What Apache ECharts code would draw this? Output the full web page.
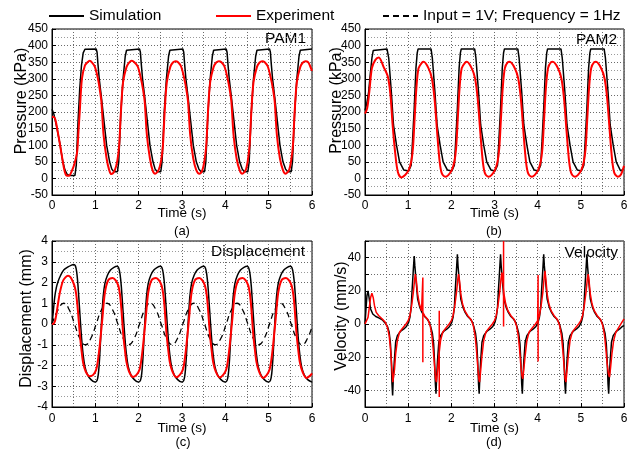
<!DOCTYPE html>
<html><head><meta charset="utf-8">
<script src="https://cdn.jsdelivr.net/npm/echarts@6/dist/echarts.min.js"></script>
<style>html,body{margin:0;padding:0;background:#fff}#c{width:629px;height:451px}</style>
</head><body><div id="c"></div>
<script>
// ---------- data (time in s) ----------
const pam1Sim = [[0,208],[0.04,195],[0.1,160],[0.18,106],[0.25,50],[0.3,25],[0.35,12],[0.4,9],[0.53,9],[0.56,40],[0.6,170],[0.64,270],[0.68,340],[0.72,378],[0.76,389],[0.78,390],
[1.02,390],[1.04,380],[1.06,345],[1.09,300],[1.14,245],[1.19,185],[1.26,100],[1.33,50],[1.38,28],[1.43,20],[1.51,20],[1.54,50],[1.59,200],[1.64,300],[1.69,368],[1.72,386],[1.75,390],
[2.02,390],[2.04,380],[2.06,345],[2.09,300],[2.14,245],[2.19,185],[2.26,100],[2.33,50],[2.38,28],[2.43,20],[2.51,20],[2.54,50],[2.59,200],[2.64,300],[2.69,368],[2.72,386],[2.75,390],
[3.02,390],[3.04,380],[3.06,345],[3.09,300],[3.14,245],[3.19,185],[3.26,100],[3.33,50],[3.39,28],[3.44,20],[3.52,20],[3.55,50],[3.6,200],[3.65,300],[3.7,368],[3.73,386],[3.76,390],
[4.02,390],[4.04,380],[4.06,345],[4.09,300],[4.14,245],[4.19,185],[4.26,100],[4.33,50],[4.39,28],[4.44,20],[4.52,20],[4.55,50],[4.6,200],[4.65,300],[4.7,368],[4.73,386],[4.76,390],
[5.02,390],[5.04,380],[5.06,345],[5.09,300],[5.14,245],[5.19,185],[5.26,100],[5.33,50],[5.39,28],[5.44,20],[5.52,20],[5.55,50],[5.6,200],[5.65,300],[5.7,368],[5.73,386],[5.76,390],[6.0,390]];

const pam1Exp = [[0,186],[0.05,184],[0.08,176],[0.12,150],[0.18,105],[0.25,50],[0.29,22],[0.33,9],[0.39,8],[0.45,20],[0.52,45],[0.58,80],[0.61,140],[0.64,200],[0.69,300],[0.76,340],[0.82,350],[0.87,354],[0.93,348],[0.99,336],
[1.06,301],[1.1,270],[1.14,231],[1.19,131],[1.26,60],[1.32,25],[1.37,13],[1.45,25],[1.51,55],[1.55,100],[1.59,200],[1.64,290],[1.72,336],[1.78,349],[1.84,354],[1.9,350],[1.98,337],
[2.05,302],[2.1,268],[2.14,230],[2.19,130],[2.26,60],[2.32,25],[2.38,14],[2.46,25],[2.52,55],[2.56,100],[2.6,200],[2.65,290],[2.73,336],[2.79,349],[2.85,353],[2.91,350],[2.98,337],
[3.05,302],[3.1,268],[3.14,230],[3.19,130],[3.26,60],[3.33,25],[3.4,14],[3.47,25],[3.52,55],[3.56,100],[3.6,200],[3.65,290],[3.73,336],[3.79,349],[3.85,353],[3.91,350],[3.98,337],
[4.05,302],[4.1,268],[4.14,230],[4.19,130],[4.26,60],[4.33,25],[4.39,14],[4.47,25],[4.52,55],[4.56,100],[4.6,200],[4.65,290],[4.73,336],[4.79,349],[4.85,353],[4.91,350],[4.98,337],
[5.05,302],[5.1,268],[5.14,230],[5.19,130],[5.26,60],[5.33,25],[5.39,14],[5.47,25],[5.52,55],[5.56,100],[5.6,200],[5.65,290],[5.73,336],[5.79,349],[5.85,353],[5.91,350],[5.96,337],[6.0,324]];

const pam2Sim = [[0,205],[0.04,225],[0.085,261],[0.12,311],[0.16,362],[0.19,385],[0.21,390],[0.51,390],[0.55,362],[0.61,261],[0.66,161],[0.73,100],[0.8,50],[0.9,25],
[1.01,22],[1.07,40],[1.1,110],[1.14,211],[1.18,332],[1.21,378],[1.23,390],[1.53,390],[1.56,362],[1.62,261],[1.67,161],[1.74,100],[1.81,50],[1.91,25],
[2.01,22],[2.07,40],[2.1,110],[2.14,211],[2.18,332],[2.21,378],[2.23,390],[2.54,390],[2.57,362],[2.63,261],[2.68,161],[2.75,100],[2.82,50],[2.92,25],
[3.01,22],[3.07,40],[3.1,110],[3.14,211],[3.18,332],[3.21,378],[3.23,390],[3.54,390],[3.57,362],[3.63,261],[3.68,161],[3.75,100],[3.82,50],[3.92,25],
[4.01,22],[4.07,40],[4.1,110],[4.14,211],[4.18,332],[4.21,378],[4.23,390],[4.54,390],[4.57,362],[4.63,261],[4.68,161],[4.75,100],[4.82,50],[4.92,25],
[5.01,22],[5.07,40],[5.1,110],[5.14,211],[5.18,332],[5.21,378],[5.23,390],[5.54,390],[5.57,362],[5.63,261],[5.68,161],[5.75,100],[5.82,50],[5.92,23],[6.0,28]];

const pam2Exp = [[0,195],[0.05,211],[0.1,261],[0.16,332],[0.24,357],[0.32,364],[0.43,336],[0.53,306],[0.59,251],[0.64,161],[0.7,76],[0.76,20],[0.84,3],[0.93,10],
[1.01,25],[1.07,50],[1.11,90],[1.15,181],[1.19,271],[1.24,332],[1.32,349],[1.36,351],[1.47,332],[1.55,301],[1.61,241],[1.67,141],[1.73,50],[1.78,15],[1.86,5],[1.93,10],
[2.01,25],[2.07,50],[2.11,90],[2.15,181],[2.19,271],[2.24,332],[2.32,349],[2.36,351],[2.47,332],[2.55,301],[2.61,241],[2.67,141],[2.73,50],[2.78,15],[2.86,5],[2.93,10],
[3.01,25],[3.07,50],[3.11,90],[3.15,181],[3.19,271],[3.24,332],[3.31,350],[3.35,351],[3.47,332],[3.55,301],[3.61,241],[3.67,141],[3.73,50],[3.78,15],[3.86,5],[3.93,10],
[4.01,25],[4.07,50],[4.11,90],[4.15,181],[4.19,271],[4.24,332],[4.31,350],[4.35,351],[4.47,332],[4.55,301],[4.61,241],[4.67,141],[4.73,50],[4.78,15],[4.86,5],[4.93,10],
[5.01,25],[5.07,50],[5.11,90],[5.15,181],[5.19,271],[5.24,332],[5.31,350],[5.35,351],[5.47,332],[5.55,301],[5.61,241],[5.67,141],[5.73,50],[5.78,15],[5.86,5],[5.93,12],[6.0,38]];

const dispSim = [[0,0],[0.03,0.6],[0.06,1.25],[0.1,1.75],[0.14,2.05],[0.2,2.35],[0.27,2.6],[0.37,2.75],[0.45,2.84],[0.5,2.87],[0.54,2.8],[0.57,2.5],[0.6,1.85],[0.64,0.6],[0.68,-0.6],[0.72,-1.5],[0.76,-2.05],[0.82,-2.45],[0.9,-2.68],[0.99,-2.8],
[1.04,-2.72],[1.07,-2.4],[1.1,-1.6],[1.14,0],[1.18,1.3],[1.22,1.95],[1.28,2.35],[1.35,2.6],[1.43,2.73],[1.5,2.78],[1.54,2.7],[1.57,2.4],[1.6,1.8],[1.64,0.6],[1.68,-0.6],[1.72,-1.5],[1.76,-2.05],[1.82,-2.45],[1.9,-2.68],[1.99,-2.8],
[2.04,-2.72],[2.07,-2.4],[2.1,-1.6],[2.14,0],[2.18,1.3],[2.22,1.95],[2.28,2.35],[2.35,2.6],[2.43,2.73],[2.5,2.78],[2.54,2.7],[2.57,2.4],[2.6,1.8],[2.64,0.6],[2.68,-0.6],[2.72,-1.5],[2.76,-2.05],[2.82,-2.45],[2.9,-2.68],[2.99,-2.8],
[3.04,-2.72],[3.07,-2.4],[3.1,-1.6],[3.14,0],[3.18,1.3],[3.22,1.95],[3.28,2.35],[3.35,2.6],[3.43,2.73],[3.5,2.78],[3.54,2.7],[3.57,2.4],[3.6,1.8],[3.64,0.6],[3.68,-0.6],[3.72,-1.5],[3.76,-2.05],[3.82,-2.45],[3.9,-2.68],[3.99,-2.8],
[4.04,-2.72],[4.07,-2.4],[4.1,-1.6],[4.14,0],[4.18,1.3],[4.22,1.95],[4.28,2.35],[4.35,2.6],[4.43,2.73],[4.5,2.78],[4.54,2.7],[4.57,2.4],[4.6,1.8],[4.64,0.6],[4.68,-0.6],[4.72,-1.5],[4.76,-2.05],[4.82,-2.45],[4.9,-2.68],[4.99,-2.8],
[5.04,-2.72],[5.07,-2.4],[5.1,-1.6],[5.14,0],[5.18,1.3],[5.22,1.95],[5.28,2.35],[5.35,2.6],[5.43,2.73],[5.5,2.78],[5.54,2.7],[5.57,2.4],[5.6,1.8],[5.64,0.6],[5.68,-0.6],[5.72,-1.5],[5.76,-2.05],[5.82,-2.45],[5.9,-2.68],[6.0,-2.8]];

const dispExp = [[0,0],[0.04,0.02],[0.07,0.15],[0.1,0.45],[0.14,1.0],[0.18,1.5],[0.25,2.06],[0.31,2.25],[0.37,2.33],[0.43,2.25],[0.49,2.0],[0.53,1.75],[0.56,1.42],[0.6,0.6],[0.64,-0.43],[0.68,-1.25],[0.72,-1.88],[0.78,-2.3],[0.87,-2.52],[0.95,-2.45],
[1.02,-2.2],[1.06,-1.75],[1.1,-1.07],[1.16,0.21],[1.22,1.5],[1.3,2.12],[1.4,2.22],[1.47,2.1],[1.53,1.85],[1.57,1.4],[1.6,0.75],[1.64,-0.4],[1.68,-1.2],[1.72,-1.85],[1.78,-2.3],[1.87,-2.55],[1.95,-2.45],
[2.02,-2.2],[2.06,-1.75],[2.1,-1.07],[2.16,0.21],[2.22,1.5],[2.3,2.12],[2.4,2.22],[2.47,2.1],[2.53,1.85],[2.57,1.4],[2.6,0.75],[2.64,-0.4],[2.68,-1.2],[2.72,-1.85],[2.78,-2.3],[2.87,-2.57],[2.95,-2.45],
[3.02,-2.2],[3.06,-1.75],[3.1,-1.07],[3.16,0.21],[3.22,1.5],[3.3,2.12],[3.4,2.22],[3.47,2.1],[3.53,1.85],[3.57,1.4],[3.6,0.75],[3.64,-0.4],[3.68,-1.2],[3.72,-1.85],[3.78,-2.3],[3.87,-2.58],[3.95,-2.45],
[4.02,-2.2],[4.06,-1.75],[4.1,-1.07],[4.16,0.21],[4.22,1.5],[4.3,2.12],[4.4,2.22],[4.47,2.1],[4.53,1.85],[4.57,1.4],[4.6,0.75],[4.64,-0.4],[4.68,-1.2],[4.72,-1.85],[4.78,-2.3],[4.87,-2.6],[4.95,-2.48],
[5.02,-2.2],[5.06,-1.75],[5.1,-1.07],[5.16,0.21],[5.22,1.5],[5.3,2.12],[5.4,2.22],[5.47,2.1],[5.53,1.85],[5.57,1.4],[5.6,0.75],[5.64,-0.4],[5.68,-1.2],[5.72,-1.85],[5.78,-2.3],[5.87,-2.6],[5.95,-2.5],[6.0,-2.38]];

const dispInput = [[0,0],[0.145,0.7],[0.27,1],[0.395,0.7],[0.52,0],[0.645,-0.7],[0.77,-1],[0.895,-0.7],
[1.02,0],[1.145,0.7],[1.27,1],[1.395,0.7],[1.52,0],[1.645,-0.7],[1.77,-1],[1.895,-0.7],
[2.02,0],[2.145,0.7],[2.27,1],[2.395,0.7],[2.52,0],[2.645,-0.7],[2.77,-1],[2.895,-0.7],
[3.02,0],[3.145,0.7],[3.27,1],[3.395,0.7],[3.52,0],[3.645,-0.7],[3.77,-1],[3.895,-0.7],
[4.02,0],[4.145,0.7],[4.27,1],[4.395,0.7],[4.52,0],[4.645,-0.7],[4.77,-1],[4.895,-0.7],
[5.02,0],[5.145,0.7],[5.27,1],[5.395,0.7],[5.52,0],[5.645,-0.7],[5.77,-1],[5.895,-0.7],[6.0,-0.12]];

const velSim = [[0,0],[0.02,8],[0.045,17],[0.07,20],[0.1,15],[0.13,9],[0.18,6],[0.25,4.5],[0.33,3.5],[0.4,2.5],[0.47,0.5],[0.52,-1.5],[0.56,-5],[0.59,-12],[0.61,-22],[0.625,-36],[0.64,-43],[0.655,-33],[0.68,-22],[0.71,-11],[0.75,-7],[0.82,-4.5],[0.9,-3],[0.96,-1.5],
[1.01,1],[1.04,4],[1.07,10],[1.09,20],[1.12,33],[1.14,41],[1.155,35],[1.18,27],[1.22,15],[1.27,10],[1.32,7],[1.38,4.5],[1.44,3],[1.49,1],[1.52,-1.5],[1.56,-5.5],[1.59,-12],[1.61,-22],[1.63,-36],[1.645,-42],[1.66,-32],[1.68,-22],[1.71,-11],[1.75,-7],[1.82,-4.5],[1.9,-3],[1.96,-1.5],
[2.01,1],[2.04,4],[2.07,10],[2.09,20],[2.12,33],[2.14,42],[2.155,35],[2.18,27],[2.22,15],[2.27,10],[2.32,7],[2.38,4.5],[2.44,3],[2.49,1],[2.52,-1.5],[2.56,-5.5],[2.59,-12],[2.61,-22],[2.63,-36],[2.645,-42],[2.66,-32],[2.68,-22],[2.71,-11],[2.75,-7],[2.82,-4.5],[2.9,-3],[2.96,-1.5],
[3.01,1],[3.04,4],[3.07,10],[3.09,20],[3.12,33],[3.14,42],[3.155,35],[3.18,27],[3.22,15],[3.27,10],[3.32,7],[3.38,4.5],[3.44,3],[3.49,1],[3.52,-1.5],[3.56,-5.5],[3.59,-12],[3.61,-22],[3.63,-36],[3.645,-42],[3.66,-32],[3.68,-22],[3.71,-11],[3.75,-7],[3.82,-4.5],[3.9,-3],[3.96,-1.5],
[4.01,1],[4.04,4],[4.07,10],[4.09,20],[4.12,33],[4.14,42],[4.155,35],[4.18,27],[4.22,15],[4.27,10],[4.32,7],[4.38,4.5],[4.44,3],[4.49,1],[4.52,-1.5],[4.56,-5.5],[4.59,-12],[4.61,-22],[4.63,-36],[4.645,-42],[4.66,-32],[4.68,-22],[4.71,-11],[4.75,-7],[4.82,-4.5],[4.9,-3],[4.96,-1.5],
[5.01,1],[5.04,4],[5.07,10],[5.09,20],[5.12,33],[5.14,42],[5.155,35],[5.18,27],[5.22,15],[5.27,10],[5.32,7],[5.38,4.5],[5.44,3],[5.49,1],[5.52,-1.5],[5.56,-5.5],[5.59,-12],[5.61,-22],[5.63,-36],[5.645,-42],[5.66,-32],[5.68,-22],[5.71,-11],[5.75,-7],[5.82,-4.5],[5.9,-3],[5.96,-1.5],[6.0,-1]];

const velExp = [[0,0],[0.04,1],[0.07,4],[0.1,10],[0.13,16],[0.16,18.5],[0.19,16],[0.22,11],[0.26,7],[0.32,5],[0.4,3],[0.47,1],[0.52,-2],[0.56,-7],[0.59,-15],[0.62,-26],[0.645,-35],[0.66,-36],[0.685,-27],[0.71,-18],[0.75,-10],[0.8,-5],[0.87,-2.5],[0.95,0],
[1.0,2],[1.04,5],[1.08,11],[1.12,19],[1.15,27],[1.165,30],[1.19,26],[1.22,18],[1.26,12],[1.31,8],[1.34,7],[1.34,28],[1.34,-23],[1.34,7],[1.38,5],[1.46,2.5],[1.51,-1],[1.55,-7],[1.58,-15],[1.61,-25],[1.635,-33],[1.655,-35],[1.68,-28],[1.71,-19],[1.72,-17],[1.72,8],[1.72,-44],[1.72,-17],[1.75,-10],[1.8,-5],[1.87,-2.5],[1.95,0],
[2.0,2],[2.04,5],[2.08,11],[2.12,19],[2.15,27],[2.165,30],[2.19,26],[2.22,18],[2.26,12],[2.31,8],[2.38,5],[2.46,2.5],[2.51,-1],[2.55,-7],[2.58,-15],[2.61,-25],[2.635,-33],[2.655,-35],[2.68,-28],[2.71,-19],[2.75,-10],[2.8,-5],[2.87,-2.5],[2.95,0],
[3.0,2],[3.04,5],[3.08,11],[3.12,19],[3.15,27],[3.17,31],[3.19,26],[3.21,22],[3.21,50],[3.21,-1.5],[3.21,22],[3.22,18],[3.26,12],[3.31,8],[3.38,5],[3.46,2.5],[3.51,-1],[3.55,-7],[3.58,-15],[3.61,-25],[3.635,-31],[3.655,-33],[3.68,-27],[3.71,-19],[3.75,-10],[3.8,-5],[3.87,-2.5],[3.95,0],
[4.0,2],[4.01,2.5],[4.01,29.5],[4.01,-22.6],[4.01,2.5],[4.04,5],[4.08,11],[4.12,19],[4.15,28],[4.17,32],[4.19,27],[4.22,18],[4.26,12],[4.31,8],[4.38,5],[4.46,2.5],[4.51,-1],[4.55,-7],[4.58,-15],[4.61,-25],[4.635,-33],[4.655,-35],[4.68,-28],[4.71,-19],[4.75,-10],[4.8,-5],[4.87,-2.5],[4.95,0],
[5.0,2],[5.04,5],[5.08,11],[5.12,19],[5.15,27],[5.17,30],[5.19,26],[5.22,18],[5.26,12],[5.31,8],[5.38,5],[5.46,2.5],[5.51,-1],[5.55,-7],[5.58,-15],[5.61,-24],[5.64,-30],[5.665,-32],[5.69,-26],[5.72,-18],[5.76,-10],[5.81,-5],[5.88,-2],[5.95,1],[6.0,3]];

const timeTicks = [0, 6, 1];            // min, max, step (labels 0..6)
const pressureTicks = [-50, 450, 50];
const dispTicks = [-4, 4, 1];
const velTicks = [-50, 50, 10];        // labels shown every 20

// ---------- chart ----------
const FONT = '"Liberation Sans", Arial, sans-serif';
const GRID_COLOR = '#6a6a6a';
const grids = [
  {left:52, top:29, width:260, height:166},
  {left:365, top:29, width:259, height:166},
  {left:52, top:241, width:260, height:166},
  {left:365, top:241, width:259, height:166}
].map(g => Object.assign(g, {show:true, borderColor:'#000', borderWidth:1, backgroundColor:'transparent', outerBoundsMode:'none', containLabel:false}));

function xAxis(i, nameGap, margin){
  return {type:'value', gridIndex:i, min:timeTicks[0], max:timeTicks[1], interval:timeTicks[2],
    axisLine:{show:true, onZero:false, lineStyle:{color:'#000'}},
    axisTick:{show:true, inside:true, length:4, lineStyle:{color:'#000'}},
    minorTick:{show:true, splitNumber:2, length:0},
    axisLabel:{color:'#000', fontSize:12, fontFamily:FONT, margin:margin},
    splitLine:{show:true, lineStyle:{color:GRID_COLOR, type:[1,2], width:1}},
    minorSplitLine:{show:true, lineStyle:{color:GRID_COLOR, type:[1,2], width:1}},
    name:'Time (s)', nameLocation:'middle', nameGap:nameGap, nameMoveOverlap:false,
    nameTextStyle:{color:'#000', fontSize:13.5, fontFamily:FONT}};
}
function yAxis(i, ticks, name, nameGap, shift, minor, fmt){
  const ax = {type:'value', gridIndex:i, min:ticks[0], max:ticks[1], interval:ticks[2],
    axisLine:{show:true, onZero:false, lineStyle:{color:'#000'}},
    axisTick:{show:true, inside:true, length:4, lineStyle:{color:'#000'}},
    minorTick:{show:minor, splitNumber:2, length:0},
    axisLabel:{color:'#000', fontSize:12, fontFamily:FONT, margin:4},
    splitLine:{show:true, lineStyle:{color:GRID_COLOR, type:[1,2], width:1}},
    minorSplitLine:{show:minor, lineStyle:{color:'#9a9a9a', type:[1,2], width:1}},
    name:name, nameLocation:'middle', nameGap:nameGap, nameMoveOverlap:false,
    nameTextStyle:{color:'#000', fontSize:16, fontFamily:FONT, padding:[0,0,0,shift]}};
  if (fmt) ax.axisLabel.formatter = fmt;
  return ax;
}
function line(i, name, data, color, width, dashed, smooth){
  return {type:'line', name:name, xAxisIndex:i, yAxisIndex:i, data:data, symbol:'none', smooth:smooth,
    lineStyle:{color:color, width:width, type: dashed ? [6,4] : 'solid'}, itemStyle:{color:color},
    silent:true, animation:false, clip:true};
}
function txt(x, y, s, size, align){
  return {type:'text', x:x, y:y, silent:true,
    style:{text:s, fill:'#000', font: size + 'px ' + FONT, align:align, verticalAlign:'middle'}};
}

const LEG = {itemWidth:35, itemHeight:12, top:8, padding:0, itemStyle:{opacity:0},
  textStyle:{color:'#000', fontSize:15.5, fontFamily:FONT}};
const option = {
  animation:false,
  backgroundColor:'#fff',
  grid: grids,
  legend:[
    Object.assign({data:['Simulation'], left:48}, LEG),
    Object.assign({data:['Experiment'], left:215}, LEG),
    Object.assign({data:['Input = 1V; Frequency = 1Hz'], left:382}, LEG)
  ],
  xAxis:[xAxis(0,11,5), xAxis(1,11,5), xAxis(2,14.5,6), xAxis(3,14.5,6)],
  yAxis:[
    yAxis(0, pressureTicks, 'Pressure (kPa)', 22, 22, true),
    yAxis(1, pressureTicks, 'Pressure (kPa)', 20, 23, true),
    yAxis(2, dispTicks, 'Displacement (mm)', 17, 11, true),
    yAxis(3, velTicks, 'Velocity (mm/s)', 15, 16, false, v => (v % 20 === 0 && Math.abs(v) < 50) ? String(v) : '')
  ],
  series:[
    line(0,'Simulation',pam1Sim,'#000',1.5,false,false),
    line(0,'Experiment',pam1Exp,'#ff0000',2,false,0.3),
    line(1,'Simulation',pam2Sim,'#000',1.5,false,false),
    line(1,'Experiment',pam2Exp,'#ff0000',2,false,0.3),
    line(2,'Input = 1V; Frequency = 1Hz',dispInput,'#000',1.3,true,0.5),
    line(2,'Simulation',dispSim,'#000',1.5,false,0.3),
    line(2,'Experiment',dispExp,'#ff0000',2,false,0.3),
    line(3,'Simulation',velSim,'#000',1.5,false,false),
    line(3,'Experiment',velExp,'#ff0000',1.5,false,false)
  ],
  graphic:[
    txt(306,39,'PAM1',15.5,'right'),
    txt(617,40,'PAM2',15.5,'right'),
    txt(305,252,'Displacement',15.5,'right'),
    txt(618,253,'Velocity',15.5,'right'),
    txt(182,231,'(a)',13,'center'),
    txt(494,231,'(b)',13,'center'),
    txt(183,442,'(c)',13,'center'),
    txt(494,442,'(d)',13,'center')
  ]
};
const chart = echarts.init(document.getElementById('c'), null, {renderer:'canvas'});
chart.setOption(option);
</script></body></html>
